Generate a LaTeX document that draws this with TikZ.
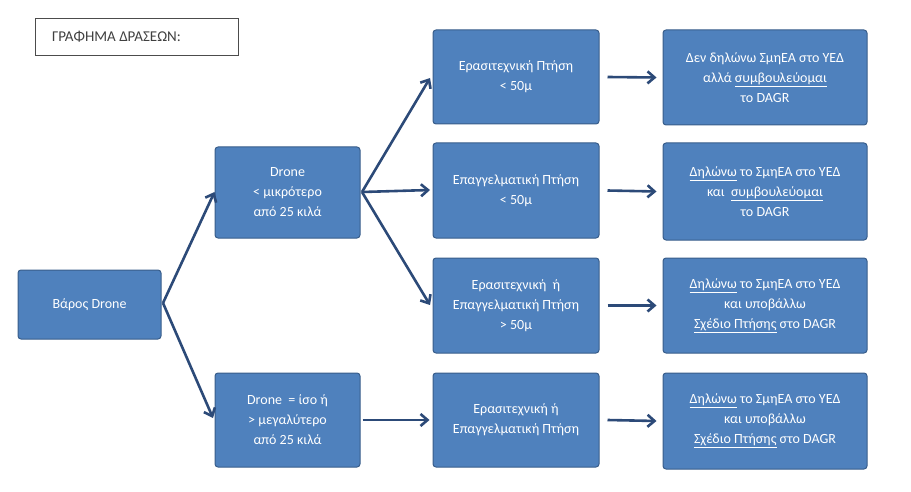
\documentclass[tikz,border=0pt]{standalone}
\usepackage{fontspec}
\setmainfont{Carlito}
\usetikzlibrary{arrows.meta}
\definecolor{boxfill}{HTML}{4F81BD}
\definecolor{boxline}{HTML}{385D8A}
\definecolor{arr}{HTML}{2C4A78}
\tikzset{
 bx/.style={draw=boxline,line width=1pt,fill=boxfill,rounded corners=3pt,text=white,align=center,font=\fontsize{14}{20}\selectfont,inner sep=0pt},
 ar/.style={draw=arr,line width=2.6pt,-{Straight Barb[length=7pt,width=12pt]}}
}
\newcommand{\bxat}[6]{\node[bx,minimum width=#4-#2,minimum height=#5-#3] (#1) at ({(#2+#4)/2},{491-(#3+#5)/2}) {#6};}
\begin{document}
\begin{tikzpicture}[x=1pt,y=1pt]
\useasboundingbox (0,0) rectangle (911,491);
\node[draw=black!70,line width=0.8pt,minimum width=203pt,minimum height=37pt,text=black!75,font=\fontsize{15}{18}\selectfont,inner sep=0pt] (t) at (136.5,454.5) {ΓΡΑΦΗΜΑ ΔΡΑΣΕΩΝ:\hspace*{40pt}};
\bxat{w}{18}{270}{161}{339}{Βάρος Drone}
\bxat{s}{215}{147}{360}{238}{Drone\\< μικρότερο\\από 25 κιλά}
\bxat{b}{215}{373}{360}{467}{Drone \ = ίσο ή\\> μεγαλύτερο\\από 25 κιλά}
\bxat{c1}{433}{30}{599}{124}{Ερασιτεχνική Πτήση\\< 50μ}
\bxat{c2}{433}{143}{599}{238}{Επαγγελματική Πτήση\\< 50μ}
\bxat{c3}{433}{258}{599}{353}{Ερασιτεχνική \ ή\\Επαγγελματική Πτήση\\> 50μ}
\bxat{c4}{433}{373}{599}{467}{Ερασιτεχνική ή\\Επαγγελματική Πτήση}
\bxat{d1}{663}{30}{867}{125}{Δεν δηλώνω ΣμηΕΑ στο ΥΕΔ\\αλλά \underline{συμβουλεύομαι}\\το DAGR}
\bxat{d2}{663}{143}{867}{240}{\underline{Δηλώνω} το ΣμηΕΑ στο ΥΕΔ\\και \ \underline{συμβουλεύομαι}\\το DAGR}
\bxat{d3}{663}{258}{867}{353}{\underline{Δηλώνω} το ΣμηΕΑ στο ΥΕΔ\\και υποβάλλω\\\underline{Σχέδιο Πτήσης} στο DAGR}
\bxat{d4}{663}{373}{867}{469}{\underline{Δηλώνω} το ΣμηΕΑ στο ΥΕΔ\\και υποβάλλω\\\underline{Σχέδιο Πτήσης} στο DAGR}
\coordinate (wo) at (163,188);
\coordinate (so) at (362,299);
\draw[ar] (wo) -- (s.south west |- 0,299) ;
\draw[ar] (wo) -- (213,73);
\draw[ar] (so) -- (430,413);
\draw[ar] (so) -- (430,301);
\draw[ar] (so) -- (430,186);
\draw[ar] (b.east) ++(2,0) -- ([xshift=-3pt]c4.west);
\draw[ar] ([xshift=8pt]c1.east) -- ([xshift=-6pt]d1.west);
\draw[ar] ([xshift=8pt]c2.east) -- ([xshift=-6pt]d2.west);
\draw[ar] ([xshift=8pt]c3.east) -- ([xshift=-6pt]d3.west);
\draw[ar] ([xshift=8pt]c4.east) -- ([xshift=-6pt]d4.west);
\end{tikzpicture}
\end{document}
